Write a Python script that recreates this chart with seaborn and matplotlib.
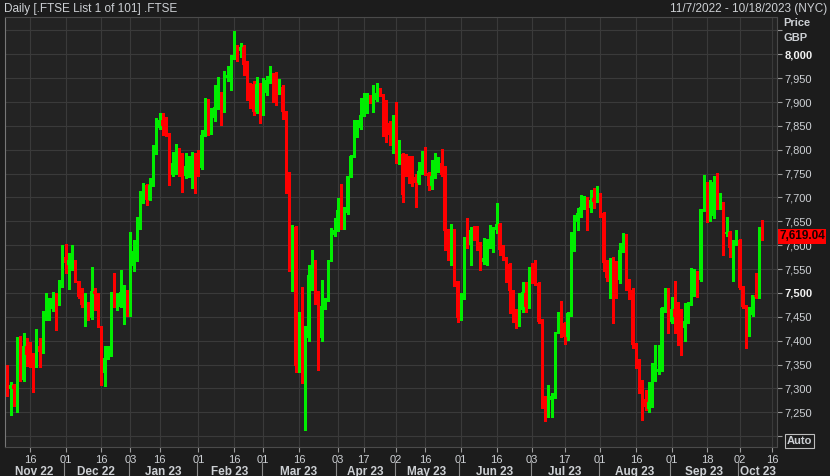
import numpy as np
import pandas as pd
import matplotlib
matplotlib.use("Agg")
import matplotlib.pyplot as plt
import matplotlib.transforms as mtransforms
import seaborn as sns

# London trading calendar for the period on the axis
holidays = ["2022-12-26", "2022-12-27", "2023-01-02", "2023-04-07", "2023-04-10",
            "2023-05-01", "2023-05-08", "2023-05-29", "2023-08-28"]
days = pd.bdate_range("2022-11-07", "2023-10-18")
days = days[~days.isin(pd.to_datetime(holidays))]

# daily OHLC (GBP)
open_ = [
    7339, 7298, 7307, 7297, 7377, 7318, 7388, 7372, 7356, 7346,
    7388, 7377, 7454, 7464, 7466, 7489, 7475, 7515, 7576, 7559,
    7556, 7569, 7524, 7492, 7473, 7480, 7447, 7504, 7499, 7428,
    7333, 7363, 7370, 7501, 7468, 7471, 7499, 7506, 7452, 7556,
    7587, 7636, 7695, 7726, 7695, 7726, 7796, 7845, 7862, 7852,
    7834, 7747, 7772, 7787, 7758, 7745, 7761, 7765, 7787, 7775,
    7761, 7830, 7904, 7838, 7866, 7890, 7915, 7883, 7950, 7953,
    7997, 8014, 8007, 8016, 7979, 7932, 7937, 7880, 7937, 7876,
    7918, 7946, 7950, 7931, 7920, 7931, 7881, 7751, 7548, 7638,
    7346, 7412, 7335, 7405, 7538, 7569, 7503, 7405, 7473, 7486,
    7569, 7622, 7632, 7674, 7636, 7667, 7744, 7786, 7828, 7845,
    7873, 7880, 7911, 7899, 7904, 7918, 7915, 7873, 7855, 7831,
    7873, 7773, 7791, 7780, 7766, 7779, 7742, 7731, 7754, 7779,
    7752, 7723, 7744, 7758, 7772, 7763, 7631, 7573, 7631, 7524,
    7447, 7492, 7610, 7601, 7631, 7625, 7603, 7564, 7573, 7597,
    7604, 7631, 7645, 7589, 7571, 7561, 7505, 7465, 7454, 7465,
    7499, 7471, 7534, 7528, 7521, 7443, 7283, 7256, 7276, 7283,
    7419, 7442, 7437, 7407, 7454, 7590, 7649, 7667, 7681, 7695,
    7677, 7698, 7696, 7702, 7667, 7566, 7529, 7569, 7557, 7527,
    7590, 7621, 7524, 7506, 7391, 7360, 7311, 7278, 7256, 7272,
    7321, 7335, 7339, 7465, 7475, 7440, 7466, 7454, 7442, 7426,
    7442, 7478, 7498, 7531, 7527, 7675, 7712, 7653, 7661, 7733,
    7680, 7686, 7624, 7628, 7594, 7605, 7611, 7513, 7472, 7412,
    7454, 7496, 7492, 7631,
]
high = [
    7349, 7314, 7310, 7408, 7410, 7417, 7405, 7398, 7375, 7424,
    7405, 7463, 7499, 7489, 7501, 7499, 7527, 7600, 7603, 7583,
    7600, 7570, 7525, 7510, 7500, 7482, 7554, 7510, 7500, 7430,
    7388, 7388, 7502, 7541, 7499, 7548, 7517, 7507, 7628, 7611,
    7660, 7714, 7730, 7728, 7740, 7810, 7866, 7876, 7876, 7869,
    7835, 7796, 7813, 7803, 7793, 7793, 7786, 7796, 7794, 7800,
    7842, 7909, 7906, 7887, 7936, 7953, 7920, 7964, 7975, 7999,
    8049, 8020, 8023, 8020, 7985, 7940, 7945, 7953, 7940, 7950,
    7955, 7975, 7960, 7962, 7948, 7935, 7882, 7754, 7643, 7640,
    7461, 7513, 7430, 7559, 7590, 7570, 7505, 7527, 7490, 7570,
    7636, 7657, 7699, 7728, 7681, 7745, 7790, 7862, 7862, 7908,
    7918, 7918, 7915, 7936, 7939, 7929, 7917, 7904, 7860, 7873,
    7901, 7820, 7793, 7792, 7787, 7786, 7750, 7775, 7798, 7805,
    7754, 7779, 7793, 7784, 7801, 7765, 7633, 7645, 7633, 7526,
    7500, 7617, 7657, 7639, 7640, 7640, 7606, 7615, 7613, 7642,
    7639, 7688, 7647, 7600, 7575, 7563, 7507, 7467, 7499, 7522,
    7522, 7554, 7562, 7569, 7523, 7445, 7285, 7307, 7290, 7419,
    7461, 7484, 7440, 7461, 7628, 7663, 7678, 7705, 7703, 7700,
    7716, 7719, 7723, 7710, 7670, 7570, 7573, 7575, 7566, 7604,
    7626, 7623, 7530, 7510, 7395, 7362, 7318, 7297, 7314, 7353,
    7391, 7391, 7471, 7510, 7510, 7492, 7524, 7482, 7466, 7478,
    7482, 7552, 7550, 7545, 7676, 7747, 7733, 7737, 7744, 7751,
    7709, 7690, 7660, 7630, 7610, 7632, 7613, 7515, 7474, 7471,
    7496, 7541, 7639, 7653,
]
low = [
    7285, 7244, 7263, 7251, 7316, 7316, 7346, 7345, 7293, 7344,
    7344, 7375, 7443, 7443, 7463, 7422, 7474, 7513, 7541, 7508,
    7548, 7522, 7489, 7471, 7431, 7444, 7445, 7464, 7428, 7307,
    7304, 7362, 7368, 7471, 7464, 7470, 7435, 7452, 7451, 7545,
    7566, 7634, 7688, 7684, 7694, 7724, 7792, 7843, 7831, 7828,
    7726, 7746, 7750, 7744, 7712, 7740, 7742, 7719, 7709, 7745,
    7759, 7828, 7831, 7834, 7860, 7885, 7852, 7880, 7944, 7925,
    7990, 7985, 7995, 7957, 7904, 7887, 7873, 7878, 7855, 7872,
    7915, 7940, 7901, 7894, 7917, 7864, 7709, 7546, 7503, 7335,
    7335, 7311, 7213, 7400, 7506, 7476, 7339, 7400, 7466, 7484,
    7566, 7619, 7630, 7634, 7634, 7665, 7742, 7784, 7826, 7843,
    7871, 7878, 7897, 7880, 7902, 7913, 7828, 7817, 7810, 7793,
    7773, 7771, 7691, 7744, 7730, 7725, 7681, 7728, 7750, 7748,
    7716, 7718, 7740, 7754, 7744, 7590, 7570, 7559, 7515, 7440,
    7444, 7488, 7595, 7559, 7610, 7590, 7547, 7560, 7559, 7594,
    7585, 7625, 7580, 7569, 7522, 7458, 7440, 7426, 7430, 7460,
    7461, 7468, 7520, 7517, 7436, 7259, 7231, 7240, 7240, 7280,
    7417, 7408, 7394, 7401, 7452, 7588, 7632, 7660, 7675, 7632,
    7670, 7677, 7690, 7660, 7545, 7524, 7489, 7436, 7489, 7520,
    7585, 7506, 7488, 7385, 7342, 7290, 7234, 7255, 7251, 7262,
    7315, 7330, 7336, 7460, 7416, 7436, 7415, 7391, 7370, 7400,
    7438, 7475, 7494, 7492, 7525, 7672, 7648, 7650, 7658, 7676,
    7676, 7580, 7620, 7576, 7524, 7600, 7508, 7468, 7384, 7410,
    7452, 7490, 7490, 7611,
]
close = [
    7290, 7307, 7298, 7377, 7318, 7388, 7370, 7353, 7349, 7388,
    7377, 7454, 7466, 7470, 7489, 7475, 7515, 7576, 7562, 7568,
    7569, 7524, 7492, 7475, 7480, 7447, 7504, 7497, 7428, 7333,
    7363, 7372, 7501, 7471, 7480, 7501, 7515, 7452, 7556, 7588,
    7636, 7702, 7726, 7695, 7726, 7796, 7845, 7862, 7850, 7831,
    7747, 7772, 7787, 7758, 7747, 7765, 7765, 7787, 7765, 7761,
    7830, 7904, 7838, 7866, 7890, 7915, 7883, 7950, 7957, 7999,
    8014, 7995, 8016, 7978, 7929, 7908, 7880, 7937, 7876, 7918,
    7946, 7950, 7931, 7920, 7931, 7880, 7747, 7548, 7638, 7346,
    7412, 7335, 7405, 7538, 7569, 7482, 7405, 7473, 7486, 7569,
    7622, 7632, 7674, 7636, 7667, 7744, 7787, 7828, 7845, 7873,
    7883, 7911, 7899, 7904, 7918, 7915, 7852, 7835, 7831, 7873,
    7773, 7791, 7705, 7765, 7744, 7744, 7731, 7756, 7779, 7751,
    7723, 7745, 7758, 7772, 7747, 7629, 7573, 7631, 7522, 7447,
    7492, 7610, 7601, 7631, 7625, 7601, 7564, 7573, 7597, 7606,
    7631, 7645, 7589, 7571, 7559, 7503, 7461, 7454, 7465, 7501,
    7471, 7534, 7527, 7520, 7440, 7276, 7256, 7276, 7285, 7419,
    7442, 7437, 7407, 7457, 7590, 7649, 7667, 7681, 7691, 7684,
    7695, 7691, 7703, 7667, 7562, 7531, 7569, 7552, 7527, 7590,
    7621, 7524, 7506, 7391, 7360, 7311, 7262, 7262, 7272, 7321,
    7337, 7340, 7468, 7474, 7440, 7466, 7450, 7430, 7426, 7442,
    7461, 7498, 7531, 7526, 7675, 7714, 7653, 7661, 7733, 7681,
    7686, 7624, 7628, 7594, 7605, 7611, 7510, 7471, 7412, 7454,
    7496, 7492, 7631, 7619.04,
]

tick_dates = ["2022-11-16", "2022-12-01", "2022-12-16", "2023-01-03", "2023-01-16",
              "2023-02-01", "2023-02-16", "2023-03-01", "2023-03-16", "2023-04-03",
              "2023-04-17", "2023-05-02", "2023-05-16", "2023-06-01", "2023-06-16",
              "2023-07-03", "2023-07-17", "2023-08-01", "2023-08-16", "2023-09-01",
              "2023-09-18", "2023-10-02", "2023-10-16"]
tick_labels = ["16", "01", "16", "03", "16", "01", "16", "01", "16", "03", "17", "02",
               "16", "01", "16", "03", "17", "01", "16", "01", "18", "02", "16"]
month_labels = ["Nov 22", "Dec 22", "Jan 23", "Feb 23", "Mar 23", "Apr 23",
                "May 23", "Jun 23", "Jul 23", "Aug 23", "Sep 23", "Oct 23"]
price_ticks = list(range(7200, 8051, 50))

GREEN = "#00ee00"
RED = "#ff0000"
TXT = "#cdd0d4"

sns.set_theme(style="darkgrid", rc={
    "figure.facecolor": "#1c1c1c",
    "axes.facecolor": "#232323",
    "axes.edgecolor": "#4a4a4a",
    "grid.color": "#3a3a3a",
    "grid.linewidth": 0.8,
    "text.color": TXT,
    "xtick.color": TXT,
    "ytick.color": TXT,
})
plt.rcParams["font.family"] = ["Liberation Sans", "DejaVu Sans"]

df = pd.DataFrame({"date": days[:len(close)], "open": open_, "high": high,
                   "low": low, "close": close})
df["pos"] = np.arange(len(df))
df["color"] = np.where(df["close"] >= df["open"], GREEN, RED)
body_lo = df[["open", "close"]].min(axis=1)
body_h = (df["close"] - df["open"]).abs().clip(lower=2)

fig = plt.figure(figsize=(8.3, 4.76), dpi=100)
W, H = 830, 476
ax = fig.add_axes([5 / W, 1 - 447 / H, 772 / W, 430 / H])
ax.set_axisbelow(True)

ax.vlines(df["pos"], df["low"], df["high"], colors=df["color"], lw=0.75,
          antialiased=False, zorder=2)
ax.bar(df["pos"], body_h, bottom=body_lo, width=0.86, color=df["color"],
       linewidth=0, antialiased=False, zorder=3)

ax.set_xlim(-0.716, 237.54)
ax.set_ylim(7177.2, 8078.1)

# x axis: day ticks plus month band
pos_of = pd.Series(np.arange(len(days)), index=days)
ax.set_xticks(pos_of[pd.to_datetime(tick_dates)].values)
ax.set_xticklabels(tick_labels)
ax.tick_params(axis="x", bottom=True, length=3.5, width=0.8, color="#9a9a9a",
               labelsize=8, pad=2, labelcolor=TXT)

starts = pos_of.groupby(days.to_period("M")).min().values - 0.5
lo, hi = ax.get_xlim()
edges = list(starts[1:])
bounds = [lo] + edges + [hi]
tr = mtransforms.blended_transform_factory(ax.transData, ax.transAxes)
for k, lab in enumerate(month_labels):
    ax.text((bounds[k] + bounds[k + 1]) / 2, -0.057, lab, transform=tr,
            ha="center", va="center", fontsize=8.5, fontweight="bold",
            color=TXT, clip_on=False)
for e in edges:
    ax.plot([e, e], [-0.034, -0.075], transform=tr, color="#8a8a8a", lw=0.8,
            clip_on=False)

# price axis on the right
ax.yaxis.tick_right()
ax.set_yticks(price_ticks)
ax.set_yticklabels(["" if v in (7200, 8050) else f"{v:,}" for v in price_ticks])
ax.tick_params(axis="y", right=True, left=False, length=3.6, width=0.8,
               color="#9a9a9a", labelsize=8, pad=2, labelcolor=TXT)
for t, v in zip(ax.get_yticklabels(), price_ticks):
    if v in (7500, 8000):
        t.set_fontweight("bold")
        t.set_color("#f2f2f2")

for s in ax.spines.values():
    s.set_visible(True)
    s.set_color("#4a4a4a")
    s.set_linewidth(0.8)
ax.spines["left"].set_color("#777777")

# last price tag
ty = mtransforms.blended_transform_factory(ax.transAxes, ax.transData)
ax.text(1.003, close[-1], f"{close[-1]:,.2f}", transform=ty, ha="left", va="center",
        fontsize=8.5, fontweight="bold", color="#1a0000", clip_on=False, zorder=6,
        bbox=dict(boxstyle="square,pad=0.12", fc=RED, ec="none"))

fig.text(4 / W, 1 - 9 / H, "Daily [.FTSE List 1 of 101] .FTSE", fontsize=8.5,
         color=TXT, ha="left", va="center")
fig.text(827 / W, 1 - 9 / H, "11/7/2022 - 10/18/2023 (NYC)", fontsize=8.5,
         color=TXT, ha="right", va="center")
fig.text(783 / W, 1 - 23 / H, "Price", fontsize=8, fontweight="bold", color=TXT,
         ha="left", va="center")
fig.text(783 / W, 1 - 38 / H, "GBP", fontsize=8, fontweight="bold", color=TXT,
         ha="left", va="center")
fig.text(787 / W, 1 - 441 / H, "Auto", fontsize=8, fontweight="bold", color=TXT,
         ha="left", va="center",
         bbox=dict(boxstyle="square,pad=0.15", fc="none", ec="#bdbdbd", lw=0.8))

fig.savefig("out.png", dpi=100)
